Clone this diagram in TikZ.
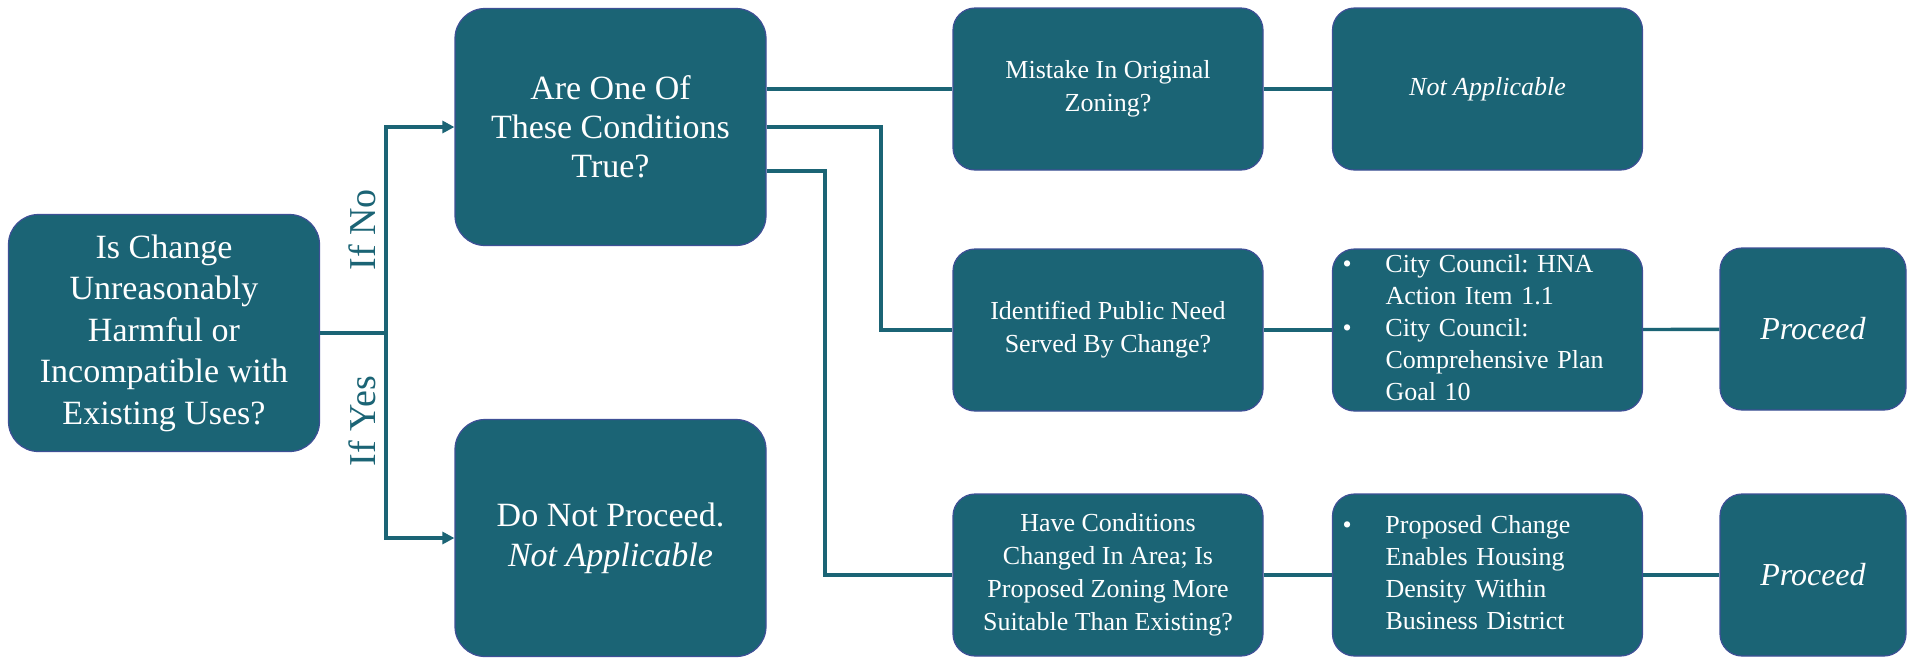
\documentclass[tikz,border=0pt]{standalone}
\usepackage{fontspec}
\setmainfont{Liberation Serif}
\usetikzlibrary{arrows.meta,calc,positioning}
\definecolor{boxteal}{RGB}{27,100,117}
\definecolor{edgeblue}{RGB}{62,80,150}
\frenchspacing

\begin{document}
\begin{tikzpicture}[x=0.5pt,y=-0.5pt]
      \tikzstyle{big}=[rectangle,rounded corners=15pt,fill=boxteal,%
        draw=edgeblue,line width=0.6pt,text=white,align=center,%
        minimum width=155.5pt,minimum height=118.5pt,inner sep=2pt,%
        font={\fontsize{17}{20.75}\selectfont}]
      \tikzstyle{small}=[big,rounded corners=11pt,minimum width=155pt,%
        minimum height=81pt,font={\fontsize{13}{16.5}\selectfont}]
      \tikzstyle{tiny}=[small,minimum width=93pt]
      \tikzstyle{bullets}=[small,text width=145pt,align=left,inner ysep=0pt,%
        font={\fontsize{13}{16}\selectfont}]
      \tikzstyle{link}=[draw=boxteal,line width=1.7pt]
      \tikzstyle{tip}=[-{Triangle[length=6pt,width=6pt]}]
      \tikzstyle{lbl}=[rotate=90,text=boxteal,font={\fontsize{19}{22}\selectfont}]

      \useasboundingbox (0,0) rectangle (1913,661);

      \node[big] (A) at (164,333) {Is Change\\ Unreasonably\\ Harmful or\\ Incompatible with\\ Existing Uses?};
      \node[big,font={\fontsize{17}{19.5}\selectfont}] (B) at (610.5,127) {Are One Of\\ These Conditions\\ True?};
      \node[big,font={\fontsize{17}{20}\selectfont}] (C) at (610.5,538) {Do Not Proceed.\\ \textit{Not Applicable}};

      \node[small] (D) at (1108,89) {Mistake In Original\\ Zoning?};
      \node[small] (E) at (1487.5,89) {\textit{Not Applicable}};

      \node[small] (F) at (1108,330) {Identified Public Need\\ Served By Change?};
      \node[bullets] (G) at (1487.5,330)
        {\begin{tabular}{@{}p{21.5pt}@{}l@{}}
         \textbullet & City Council: HNA\\ & Action Item 1.1\\
         \textbullet & City Council:\\ & Comprehensive Plan\\ & Goal 10
         \end{tabular}};
      \node[tiny,font={\fontsize{16}{19}\selectfont}] (H) at (1813,329) {\textit{Proceed}};

      \node[small] (I) at (1108,575) {Have Conditions\\ Changed In Area; Is\\ Proposed Zoning More\\ Suitable Than Existing?};
      \node[bullets] (J) at (1487.5,575)
        {\begin{tabular}{@{}p{21.5pt}@{}l@{}}
         \textbullet & Proposed Change\\ & Enables Housing\\ & Density Within\\ & Business District
         \end{tabular}};
      \node[tiny,font={\fontsize{16}{19}\selectfont}] (K) at (1813,575) {\textit{Proceed}};

      \coordinate (split) at (386,333);
      \coordinate (turnF) at (881,0);
      \coordinate (turnI) at (825,0);

      \node[lbl] (no) at (362,230) {If No};
      \node[lbl] (yes) at (362,421) {If Yes};

      \draw[link] (A.east) -- (split);
      \draw[link,tip] (split) |- (B.west);
      \draw[link,tip] (split) |- (C.west);

      \draw[link] (D.west -| B.east) -- (D.west);
      \draw[link] (B.east) -| (turnF |- F.west) -- (F.west);
      \draw[link] ([yshift=-22pt]B.east) -| (turnI |- I.west) -- (I.west);

      \path[link] (D) edge (E);
      \path[link] (F) edge (G);
      \path[link] (G) edge (H);
      \path[link] (I) edge (J);
      \path[link] (J) edge (K);
    \end{tikzpicture}
\end{document}
